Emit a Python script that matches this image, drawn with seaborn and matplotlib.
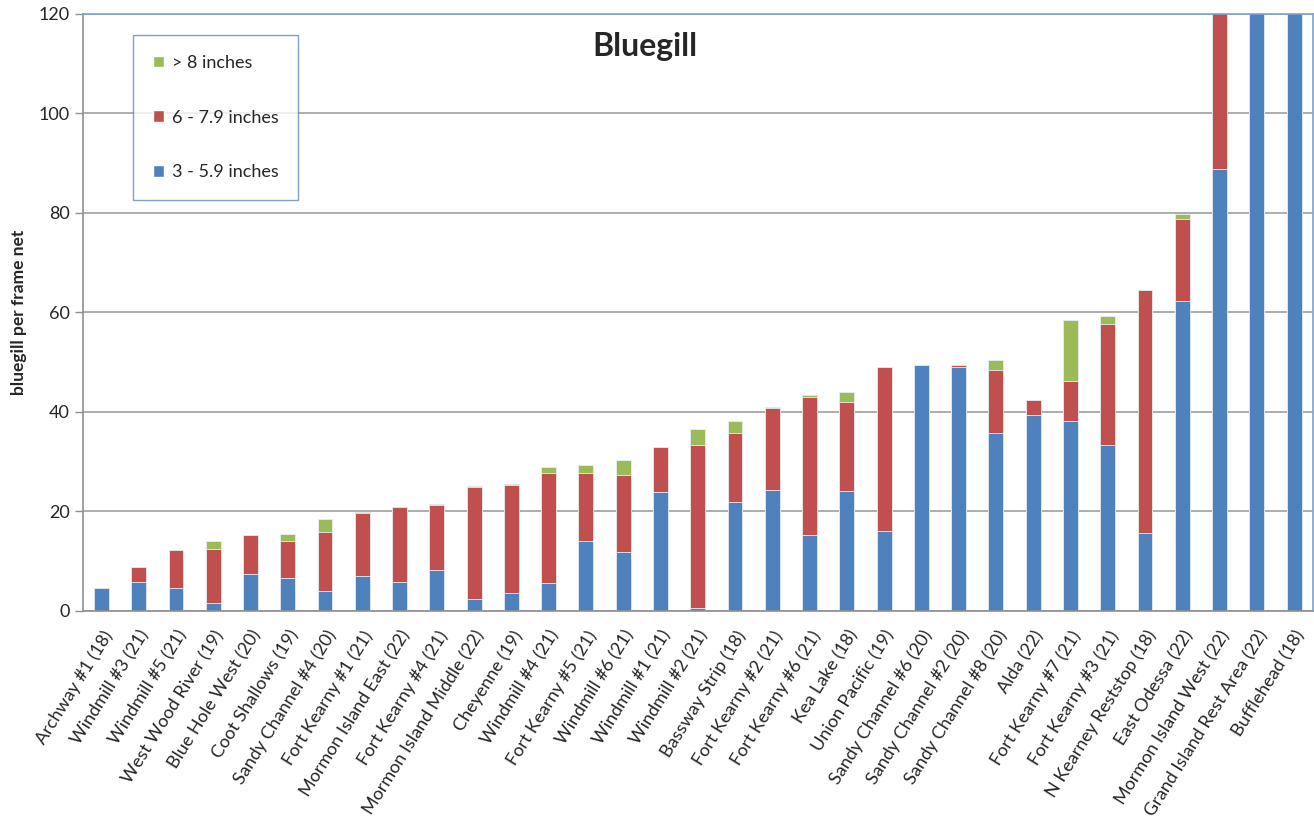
import numpy as np
import pandas as pd
import matplotlib
matplotlib.use("Agg")
import matplotlib.pyplot as plt
import seaborn as sns
from matplotlib.patches import Patch

# sites (sample size in brackets) and bluegill per frame net by length class
sites = ["Archway #1 (18)", "Windmill #3 (21)", "Windmill #5 (21)", "West Wood River (19)",
         "Blue Hole West (20)", "Coot Shallows (19)", "Sandy Channel #4 (20)", "Fort Kearny #1 (21)",
         "Mormon Island East (22)", "Fort Kearny #4 (21)", "Mormon Island Middle (22)", "Cheyenne (19)",
         "Windmill #4 (21)", "Fort Kearny #5 (21)", "Windmill #6 (21)", "Windmill #1 (21)",
         "Windmill #2 (21)", "Bassway Strip (18)", "Fort Kearny #2 (21)", "Fort Kearny #6 (21)",
         "Kea Lake (18)", "Union Pacific (19)", "Sandy Channel #6 (20)", "Sandy Channel #2 (20)",
         "Sandy Channel #8 (20)", "Alda (22)", "Fort Kearny #7 (21)", "Fort Kearny #3 (21)",
         "N Kearney Reststop (18)", "East Odessa (22)", "Mormon Island West (22)",
         "Grand Island Rest Area (22)", "Bufflehead (18)"]

small = [4.6, 5.9, 4.6, 1.6, 7.4, 6.7, 4.1, 7.1, 5.9, 8.3, 2.4, 3.6, 5.6, 14.0, 11.9, 24.0,
         0.6, 22.0, 24.4, 15.2, 24.2, 16.0, 49.4, 49.1, 35.8, 39.4, 38.2, 33.4, 15.7, 62.3,
         88.8, 145.0, 160.0]
medium = [0.1, 3.0, 7.7, 10.9, 7.8, 7.4, 11.8, 12.5, 15.0, 12.9, 22.5, 21.7, 22.1, 13.7, 15.4, 9.0,
          32.8, 13.8, 16.3, 27.9, 17.9, 33.1, 0.0, 0.3, 12.6, 3.0, 8.1, 24.2, 48.9, 16.4,
          45.0, 0.0, 0.0]
large = [0.0, 0.0, 0.0, 1.5, 0.0, 1.4, 2.6, 0.3, 0.0, 0.4, 0.3, 0.2, 1.3, 1.7, 3.1, 0.0,
         3.1, 2.3, 0.2, 0.3, 2.0, 0.0, 0.0, 0.0, 2.1, 0.0, 12.2, 1.7, 0.0, 1.1,
         0.0, 0.0, 0.0]

labels = ["3 - 5.9 inches", "6 - 7.9 inches", "> 8 inches"]
colors = ["#4F81BD", "#C0504D", "#9BBB59"]

df = pd.DataFrame({"site": sites, "small": small, "medium": medium, "large": large})
df["s_m"] = df["small"] + df["medium"]
df["total"] = df["s_m"] + df["large"]

sns.set_style("white")
plt.rcParams['font.family'] = ['Lato', 'DejaVu Sans']

fig = plt.figure(figsize=(13.14, 8.19), dpi=100)
ax = fig.add_axes([0.063, 0.254, 0.936, 0.729])

# stack by drawing cumulative totals, tallest first
for col, c in [("total", colors[2]), ("s_m", colors[1]), ("small", colors[0])]:
    sns.barplot(data=df, x="site", y=col, order=sites, color=c, width=0.4,
                edgecolor="#e8eef6", linewidth=0.6, saturation=1, ax=ax)

ax.set_ylim(0, 120)
ax.set_xlim(-0.5, len(sites) - 0.5)
ax.set_yticks(np.arange(0, 121, 20))
ax.yaxis.grid(True, color="#a0a0a0", linewidth=1.2)
ax.set_axisbelow(True)

ax.set_xlabel("")
ax.set_ylabel("bluegill per frame net", fontsize=12.5, fontweight="bold", labelpad=8)
ax.set_xticks(range(len(sites)))
ax.set_xticklabels(sites, rotation=58, ha="right", rotation_mode="anchor", fontsize=13)
ax.tick_params(axis="x", which="major", length=0, pad=12)
ax.set_xticks(np.arange(-0.5, len(sites), 1), minor=True)
ax.tick_params(axis="x", which="minor", length=6, color="#909090", width=1)
ax.tick_params(axis="y", length=6, color="#909090", width=1, labelsize=13, left=True)

for s in ["left", "bottom"]:
    ax.spines[s].set_color("#909090")
    ax.spines[s].set_linewidth(1.2)
for s in ["top", "right"]:
    ax.spines[s].set_visible(True)
    ax.spines[s].set_color("#7da2cf")
    ax.spines[s].set_linewidth(1.2)

ax.text(0.457, 0.945, "Bluegill", transform=ax.transAxes, ha="center", va="center",
        fontsize=23, fontweight="bold")

handles = [Patch(facecolor=colors[i], label=labels[i]) for i in [2, 1, 0]]
leg = ax.legend(handles=handles, loc="upper left", bbox_to_anchor=(0.0407, 0.965),
                fontsize=13, frameon=True, fancybox=False, labelspacing=2.15,
                handlelength=0.6, handleheight=0.6, handletextpad=0.45,
                borderpad=1.1, borderaxespad=0)
leg.get_frame().set_edgecolor("#5b87c0")
leg.get_frame().set_linewidth(1.0)

fig.savefig("out.png", dpi=100)
